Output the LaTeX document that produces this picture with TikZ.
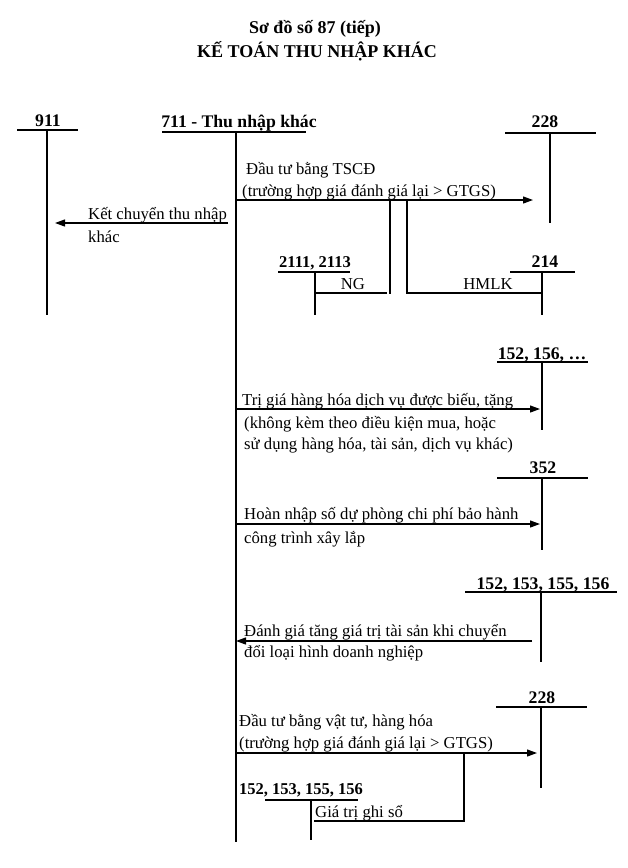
\documentclass[tikz,border=0pt]{standalone}
\usepackage{fontspec}
\setmainfont{Liberation Serif}
\usetikzlibrary{arrows.meta}
\begin{document}
\begin{tikzpicture}[x=1pt,y=-1pt,
  txt/.style={anchor=base west,inner sep=0pt,font=\fontsize{16.7}{20}\selectfont},
  ctxt/.style={anchor=base,inner sep=0pt,font=\fontsize{16.7}{20}\selectfont},
  acc/.style={anchor=base,inner sep=0pt,font=\fontsize{17.7}{20}\selectfont\bfseries},
  accs/.style={anchor=base,inner sep=0pt,font=\fontsize{16.5}{20}\selectfont\bfseries},
  ttl/.style={anchor=base,inner sep=0pt,font=\fontsize{18}{20}\selectfont\bfseries},
  ln/.style={line width=1.2pt},
  mainln/.style={line width=2.2pt},
  arr/.style={line width=1.2pt,-{Triangle[length=10pt,width=7pt]}},
]
\useasboundingbox (0,0) rectangle (627,868);

% Title
\node[ttl] (t1) at (315,33) {Sơ đồ số 87 (tiếp)};
\node[ttl] (t2) at (317,57) {KẾ TOÁN THU NHẬP KHÁC};

% 911
\node[acc] (l911) at (48,126) {911};
\coordinate (h911a) at (17,130); \coordinate (h911b) at (78,130);
\coordinate (v911a) at (47,130); \coordinate (v911b) at (47,315);
\draw[ln] (h911a) -- (h911b); \draw[ln] (v911a) -- (v911b);

% 711
\node[acc] (l711) at (239,127) {711 - Thu nhập khác};
\coordinate (h711a) at (162,132); \coordinate (h711b) at (306,132);
\coordinate (v711a) at (236,132); \coordinate (v711b) at (236,842);
\draw[mainln] (h711a) -- (h711b); \draw[mainln] (v711a) -- (v711b);

% 228 top
\node[acc] (l228a) at (545,127) {228};
\coordinate (h228a1) at (505,133); \coordinate (h228a2) at (596,133);
\coordinate (v228a1) at (550,133); \coordinate (v228a2) at (550,223);
\draw[ln] (h228a1) -- (h228a2); \draw[ln] (v228a1) -- (v228a2);

% 2111, 2113
\node[accs] (l2111) at (315,267) {2111, 2113};
\coordinate (h2111a) at (278,272); \coordinate (h2111b) at (350,272);
\coordinate (v2111a) at (315,272); \coordinate (v2111b) at (315,315);
\draw[ln] (h2111a) -- (h2111b); \draw[ln] (v2111a) -- (v2111b);

% 214
\node[acc] (l214) at (545,267) {214};
\coordinate (h214a) at (510,272); \coordinate (h214b) at (575,272);
\coordinate (v214a) at (542,272); \coordinate (v214b) at (542,315);
\draw[ln] (h214a) -- (h214b); \draw[ln] (v214a) -- (v214b);

% Ket chuyen
\coordinate (kcA) at (228,223); \coordinate (kcB) at (55,223);
\draw[arr] (kcA) -- (kcB);
\node[txt] (kc1) at (88,219) {Kết chuyển thu nhập};
\node[txt] (kc2) at (88,242) {khác};

% Dau tu bang TSCD
\coordinate (dtA) at (236,200); \coordinate (dtB) at (533,200);
\draw[arr] (dtA) -- (dtB);
\node[txt] (dt1) at (246,174) {Đầu tư bằng TSCĐ};
\node[txt] (dt2) at (242,196) {(trường hợp giá đánh giá lại > GTGS)};

% NG and HMLK
\coordinate (ngTop) at (390,200); \coordinate (ngBot) at (390,294);
\coordinate (ngL) at (315,293); \coordinate (ngR) at (387,293);
\draw[ln] (ngTop) -- (ngBot); \draw[ln] (ngL) -- (ngR);
\node[ctxt] (ng) at (353,289) {NG};
\coordinate (hmTop) at (407,200); \coordinate (hmBot) at (407,293);
\coordinate (hmR) at (542,293);
\draw[ln] (hmTop) -- (hmBot) -- (hmR);
\node[ctxt] (hm) at (488,289) {HMLK};

% 152, 156, ...
\node[acc] (l152a) at (542,359) {152, 156, …};
\coordinate (h152a1) at (497,362); \coordinate (h152a2) at (588,362);
\coordinate (v152a1) at (542,362); \coordinate (v152a2) at (542,430);
\draw[ln] (h152a1) -- (h152a2); \draw[ln] (v152a1) -- (v152a2);
\coordinate (bA) at (236,409); \coordinate (bB) at (540,409);
\draw[arr] (bA) -- (bB);
\node[txt] (b1) at (242,405) {Trị giá hàng hóa dịch vụ được biếu, tặng};
\node[txt] (b2) at (244,428) {(không kèm theo điều kiện mua, hoặc};
\node[txt] (b3) at (244,449) {sử dụng hàng hóa, tài sản, dịch vụ khác)};

% 352
\node[acc] (l352) at (543,473) {352};
\coordinate (h352a) at (497,478); \coordinate (h352b) at (588,478);
\coordinate (v352a) at (542,478); \coordinate (v352b) at (542,550);
\draw[ln] (h352a) -- (h352b); \draw[ln] (v352a) -- (v352b);
\coordinate (hnA) at (236,524); \coordinate (hnB) at (540,524);
\draw[arr] (hnA) -- (hnB);
\node[txt] (hn1) at (244,519) {Hoàn nhập số dự phòng chi phí bảo hành};
\node[txt] (hn2) at (244,543) {công trình xây lắp};

% 152, 153, 155, 156 (middle)
\node[acc] (l152b) at (543,589) {152, 153, 155, 156};
\coordinate (h152b1) at (465,592); \coordinate (h152b2) at (617,592);
\coordinate (v152b1) at (541,592); \coordinate (v152b2) at (541,662);
\draw[ln] (h152b1) -- (h152b2); \draw[ln] (v152b1) -- (v152b2);
\coordinate (dgA) at (532,641); \coordinate (dgB) at (236,641);
\draw[arr] (dgA) -- (dgB);
\node[txt] (dg1) at (244,636) {Đánh giá tăng giá trị tài sản khi chuyển};
\node[txt] (dg2) at (244,657) {đổi loại hình doanh nghiệp};

% 228 bottom
\node[acc] (l228b) at (542,703) {228};
\coordinate (h228b1) at (496,707); \coordinate (h228b2) at (587,707);
\coordinate (v228b1) at (541,707); \coordinate (v228b2) at (541,788);
\draw[ln] (h228b1) -- (h228b2); \draw[ln] (v228b1) -- (v228b2);
\coordinate (vtA) at (236,753); \coordinate (vtB) at (537,753);
\draw[arr] (vtA) -- (vtB);
\node[txt] (vt1) at (239,726) {Đầu tư bằng vật tư, hàng hóa};
\node[txt] (vt2) at (239,748) {(trường hợp giá đánh giá lại > GTGS)};

% Gia tri ghi so
\coordinate (gsTop) at (464,753); \coordinate (gsBot) at (464,821);
\coordinate (gsL) at (314,821);
\draw[ln] (gsTop) -- (gsBot) -- (gsL);
\node[txt] (gs) at (315,817) {Giá trị ghi sổ};

% 152, 153, 155, 156 (bottom)
\node[accs] (l152c) at (301,794) {152, 153, 155, 156};
\coordinate (h152c1) at (265,800); \coordinate (h152c2) at (358,800);
\coordinate (v152c1) at (311,800); \coordinate (v152c2) at (311,840);
\draw[ln] (h152c1) -- (h152c2); \draw[ln] (v152c1) -- (v152c2);
\end{tikzpicture}
\end{document}
